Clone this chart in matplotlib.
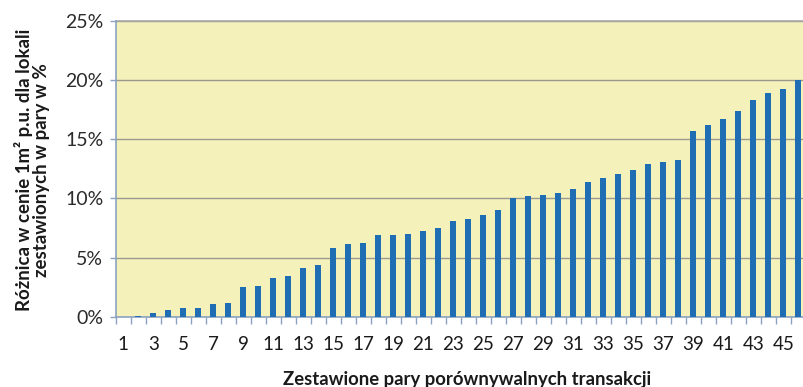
import matplotlib
matplotlib.use("Agg")
import matplotlib.pyplot as plt
from matplotlib.ticker import FixedLocator, PercentFormatter
import numpy as np

# Pairs of comparable transactions and the price difference per m² (in %)
pairs = list(range(1, 47))
diff_pct = [0.0, 0.1, 0.34, 0.56, 0.76, 0.76, 1.13, 1.18, 2.53, 2.65,
            3.3, 3.5, 4.14, 4.42, 5.83, 6.17, 6.25, 6.93, 6.93, 7.01,
            7.29, 7.55, 8.14, 8.31, 8.64, 9.04, 10.05, 10.25, 10.33, 10.5,
            10.84, 11.43, 11.74, 12.1, 12.44, 12.95, 13.12, 13.26, 15.68, 16.19,
            16.67, 17.34, 18.3, 18.86, 19.23, 20.0]
y_ticks = [0, 5, 10, 15, 20, 25]
x_tick_labels = [str(p) for p in pairs if p % 2 == 1]

plt.rcParams['font.family'] = ['Lato', 'DejaVu Sans']

W, H = 804, 387
fig = plt.figure(figsize=(W / 100, H / 100), dpi=100)
left, right, top, bottom = 115.8, 805.8, 20.7, 317.0
ax = fig.add_axes([left / W, 1 - bottom / H, (right - left) / W, (bottom - top) / H])

ax.set_facecolor('#F4F1BB')
ax.bar(pairs, diff_pct, width=0.4, color='#1F6EB3', zorder=3)

ax.set_xlim(0.5, 46.5)
ax.set_ylim(0, 25)
ax.yaxis.set_major_locator(FixedLocator(y_ticks))
ax.yaxis.set_major_formatter(PercentFormatter(decimals=0))
ax.grid(axis='y', color='#9A9A8E', linewidth=1.0, zorder=1)

# Category labels on odd pairs, tick marks on category boundaries
ax.set_xticks([p for p in pairs if p % 2 == 1])
ax.set_xticklabels(x_tick_labels)
ax.set_xticks(np.arange(0.5, 47, 1.0), minor=True)
ax.tick_params(axis='x', which='major', length=0, pad=14, labelsize=13.5, labelcolor='#1a1a1a')
ax.tick_params(axis='x', which='minor', length=5, width=1, color='#8BA3C0', direction='out')
ax.tick_params(axis='y', length=4, width=1, color='#8BA3C0', pad=5, labelsize=14, labelcolor='#2b2b2b')

for side in ('top', 'right'):
    ax.spines[side].set_color('#A8A8A8')
ax.spines['left'].set_color('#8BA3C0')
ax.spines['bottom'].set_color('#8BA3C0')
for s in ax.spines.values():
    s.set_linewidth(1.2)
ax.spines['left'].set_zorder(4)

fig.text(467 / W, 1 - 379 / H, 'Zestawione pary porównywalnych transakcji',
         ha='center', va='center', fontsize=13.3, fontweight='bold', color='#1a1a1a')
fig.text(32 / W, 1 - 170 / H, 'Różnica w cenie 1m² p.u. dla lokali\nzestawionych w pary w %',
         ha='center', va='center', rotation=90, fontsize=13.4, fontweight='bold',
         color='#1a1a1a', linespacing=1.05)

fig.savefig('out.png', dpi=100, facecolor='white')
